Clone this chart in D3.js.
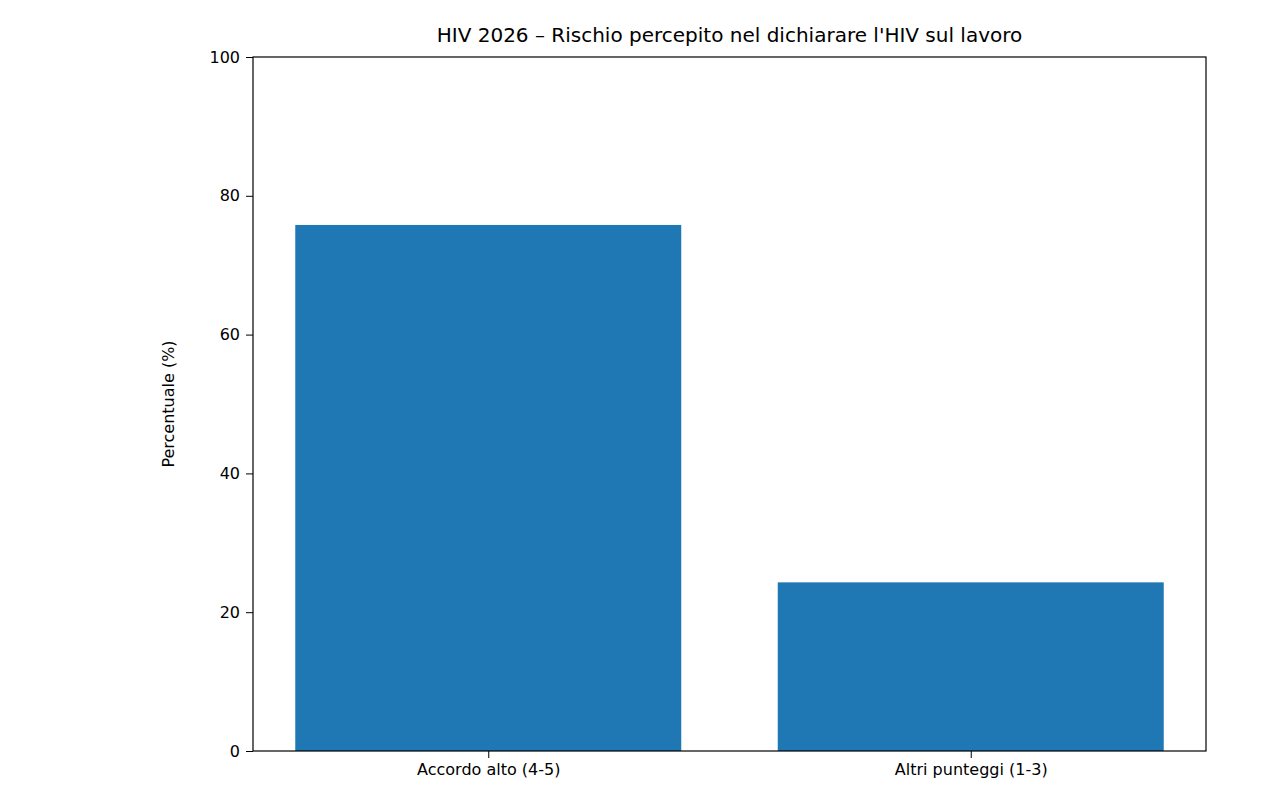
<!DOCTYPE html>
<html><head><meta charset="utf-8">
<script src="https://cdn.jsdelivr.net/npm/d3@7"></script>
<style>body{margin:0;background:#fff}text{font-family:"DejaVu Sans",sans-serif;fill:#000}</style>
</head><body><svg id="c" width="1280" height="800"></svg>
<script>
const categories = ["Accordo alto (4-5)", "Altri punteggi (1-3)"];
const values = [75.8, 24.3];
const yTicks = [0, 20, 40, 60, 80, 100];
const title = "HIV 2026 – Rischio percepito nel dichiarare l'HIV sul lavoro";
const yLabel = "Percentuale (%)";

const L=253,R=1206,T=57,B=751;
const svg=d3.select("#c");
const x=d3.scaleLinear().domain([-0.4876,1.4876]).range([L,R]);
const y=d3.scaleLinear().domain([0,100]).range([B,T]);
svg.selectAll("rect.bar").data(values).join("rect").attr("class","bar")
 .attr("x",(d,i)=>x(i-0.4)).attr("width",(d,i)=>x(i+0.4)-x(i-0.4))
 .attr("y",d=>y(d)).attr("height",d=>B-y(d)).attr("fill","#1f77b4");
const ya=svg.append("g").attr("transform",`translate(${L},0)`)
 .call(d3.axisLeft(y).tickValues(yTicks).tickSize(7).tickPadding(6));
const xa=svg.append("g").attr("transform",`translate(0,${B})`)
 .call(d3.axisBottom(x).tickValues([0,1]).tickFormat(i=>categories[i]).tickSize(7).tickPadding(6));
[ya,xa].forEach(a=>{a.select(".domain").remove();a.selectAll("text").style("font-size","16px").style("font-family","DejaVu Sans");a.selectAll("line").attr("stroke","#000");});
svg.append("rect").attr("x",L).attr("y",T).attr("width",R-L).attr("height",B-T).attr("fill","none").attr("stroke","#000").attr("stroke-width",1.2);
svg.append("text").attr("x",(L+R)/2).attr("y",T-15).attr("text-anchor","middle").style("font-size","20px").text(title);
svg.append("text").attr("transform",`translate(174,${(T+B)/2}) rotate(-90)`).attr("text-anchor","middle").style("font-size","16px").text(yLabel);
</script></body></html>
